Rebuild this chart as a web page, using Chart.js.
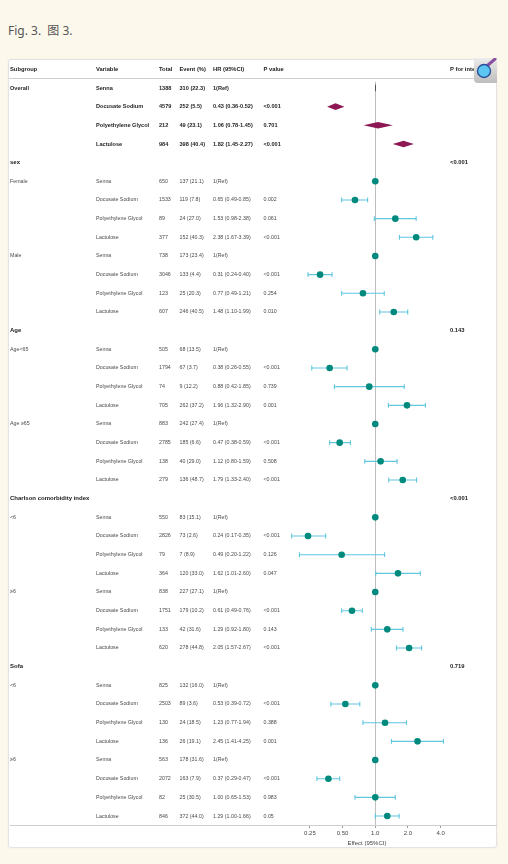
<!DOCTYPE html>
<html><head><meta charset="utf-8">
<script src="https://cdn.jsdelivr.net/npm/chart.js@4"></script>
<style>
html,body{margin:0;padding:0;background:#fcf9ec;width:508px;height:864px;overflow:hidden;}
#cap{position:absolute;left:8px;top:21px;font:12px "Noto Sans","Noto Sans CJK SC",sans-serif;color:#555;white-space:pre;}
#card{position:absolute;left:8px;top:59px;width:487px;height:787px;background:#fff;border:1px solid #e3e3e3;border-radius:3px;box-shadow:0 0 2px rgba(0,0,0,0.07);}
#c{position:absolute;left:0;top:0;}
#icon{position:absolute;left:474px;top:58px;}
</style></head><body>
<div id="cap">Fig. 3.  图 3.</div>
<div id="card"></div>
<canvas id="c" width="508" height="864"></canvas>
<svg id="icon" width="24" height="25" viewBox="0 0 24 25">
  <defs><linearGradient id="g" x1="0" y1="0" x2="0" y2="1"><stop offset="0" stop-color="#ececec"/><stop offset="1" stop-color="#bdbdbd"/></linearGradient></defs>
  <path d="M0 0 H23 V25 H4 Q0 25 0 21 Z" fill="url(#g)"/>
  <line x1="14" y1="7" x2="21" y2="1" stroke="#8a4fa0" stroke-width="3" stroke-linecap="round"/>
  <circle cx="10" cy="13" r="6.5" fill="#5cc6f2" stroke="#2a4f9a" stroke-width="1.4"/>
</svg>
<script>
const drugs = ['Senna','Docusate Sodium','Polyethylene Glycol','Lactulose'];
const overallTotal = [1388,4579,212,984];
const overallEvents = [310,252,49,398];
const overallPct = [22.3,5.5,23.1,40.4];
const overallHR = [1,0.43,1.06,1.82];
const overallLo = [1,0.36,0.78,1.45];
const overallHi = [1,0.52,1.45,2.27];
const overallP = ['','<0.001','0.701','<0.001'];

const sections = ['sex','Age','Charlson comorbidity index','Sofa'];
const sectionPInt = ['<0.001','0.143','<0.001','0.719'];
const subgroups = ['Female','Male','Age<65','Age ≥65','<6','≥6','<6','≥6'];
const subTotal = [[650,1533,89,377],[738,3046,123,607],[505,1794,74,705],[883,2785,138,279],[550,2826,79,364],[838,1751,133,620],[825,2503,130,136],[563,2072,82,846]];
const subEvents = [[137,119,24,152],[173,133,25,246],[68,67,9,262],[242,185,40,136],[83,73,7,120],[227,179,42,278],[132,89,24,26],[178,163,25,372]];
const subPct = [[21.1,7.8,27.0,40.3],[23.4,4.4,20.3,40.5],[13.5,3.7,12.2,37.2],[27.4,6.6,29.0,48.7],[15.1,2.6,8.9,33.0],[27.1,10.2,31.6,44.8],[16.0,3.6,18.5,19.1],[31.6,7.9,30.5,44.0]];
const subHR = [[1,0.65,1.53,2.38],[1,0.31,0.77,1.48],[1,0.38,0.88,1.96],[1,0.47,1.12,1.79],[1,0.24,0.49,1.62],[1,0.61,1.29,2.05],[1,0.53,1.23,2.45],[1,0.37,1.00,1.29]];
const subLo = [[1,0.49,0.98,1.67],[1,0.24,0.49,1.10],[1,0.26,0.42,1.32],[1,0.38,0.80,1.33],[1,0.17,0.20,1.01],[1,0.49,0.92,1.57],[1,0.39,0.77,1.41],[1,0.29,0.65,1.00]];
const subHi = [[1,0.85,2.38,3.39],[1,0.40,1.21,1.99],[1,0.55,1.85,2.90],[1,0.59,1.59,2.40],[1,0.35,1.22,2.60],[1,0.76,1.80,2.67],[1,0.72,1.94,4.25],[1,0.47,1.53,1.66]];
const subP = [['','0.002','0.061','<0.001'],['','<0.001','0.254','0.010'],['','<0.001','0.739','0.001'],['','<0.001','0.508','<0.001'],['','<0.001','0.126','0.047'],['','<0.001','0.143','<0.001'],['','<0.001','0.388','0.001'],['','<0.001','0.983','0.05']];

const headers = ['Subgroup','Variable','Total','Event (%)','HR (95%CI)','P value','P for interaction'];
const xTicks = [0.25,0.5,1,2,4];
const xTickLabels = ['0.25','0.50','1.0','2.0','4.0'];
const xTitle = 'Effect (95%CI)';

function hrText(j,h,l,u){ return j===0 ? '1(Ref)' : h.toFixed(2)+' ('+l.toFixed(2)+'-'+u.toFixed(2)+')'; }

const rows = [];
drugs.forEach((d,j)=>rows.push({kind:'overall',sub:j===0?'Overall':'',variable:d,total:overallTotal[j],
  ev:overallEvents[j]+' ('+overallPct[j].toFixed(1)+')',hr:overallHR[j],lo:overallLo[j],hi:overallHi[j],
  hrt:hrText(j,overallHR[j],overallLo[j],overallHi[j]),p:overallP[j],ref:j===0}));
sections.forEach((s,k)=>{
  rows.push({kind:'section',sub:s,pint:sectionPInt[k]});
  for(let g=2*k;g<2*k+2;g++){
    drugs.forEach((d,j)=>rows.push({kind:'data',sub:j===0?subgroups[g]:'',variable:d,total:subTotal[g][j],
      ev:subEvents[g][j]+' ('+subPct[g][j].toFixed(1)+')',hr:subHR[g][j],lo:subLo[g][j],hi:subHi[g][j],
      hrt:hrText(j,subHR[g][j],subLo[g][j],subHi[g][j]),p:subP[g][j],ref:j===0}));
  }
});

const pointData = [];
rows.forEach((r,i)=>{ if(r.kind==='data') pointData.push({x:r.hr,y:i}); });

const colX = [10,96,159,179.5,213,263.5,450];
const FONT = '"Liberation Sans", Arial, sans-serif';

const forest = {
  id:'forest',
  beforeDatasetsDraw(chart){
    const {ctx, chartArea:a, scales:{x,y}} = chart;
    ctx.save();
    // header & bottom lines
    ctx.strokeStyle='#cfcfcf'; ctx.lineWidth=1;
    ctx.beginPath(); ctx.moveTo(9,78.5); ctx.lineTo(496,78.5); ctx.stroke();
    ctx.beginPath(); ctx.moveTo(10,Math.round(a.bottom)+0.5); ctx.lineTo(a.right,Math.round(a.bottom)+0.5); ctx.stroke();
    // reference line
    const x1 = Math.round(x.getPixelForValue(1))+0.5;
    ctx.strokeStyle='#bdbdbd';
    ctx.beginPath(); ctx.moveTo(x1,a.top+3); ctx.lineTo(x1,a.bottom); ctx.stroke();
    // error bars
    ctx.strokeStyle='#5fc6df'; ctx.lineWidth=1.1;
    rows.forEach((r,i)=>{
      if(r.kind!=='data'||r.ref) return;
      const yy=y.getPixelForValue(i), xl=x.getPixelForValue(r.lo), xh=x.getPixelForValue(r.hi);
      ctx.beginPath();
      ctx.moveTo(xl,yy); ctx.lineTo(xh,yy);
      ctx.moveTo(xl,yy-2.4); ctx.lineTo(xl,yy+2.4);
      ctx.moveTo(xh,yy-2.4); ctx.lineTo(xh,yy+2.4);
      ctx.stroke();
    });
    // diamonds
    rows.forEach((r,i)=>{
      if(r.kind!=='overall') return;
      const yy=y.getPixelForValue(i), xl=x.getPixelForValue(r.lo), xh=x.getPixelForValue(r.hi), xc=x.getPixelForValue(r.hr);
      if(r.ref){
        ctx.strokeStyle='#555'; ctx.lineWidth=1;
        ctx.beginPath(); ctx.moveTo(x1,yy-3.3); ctx.lineTo(x1,yy+3.3); ctx.stroke();
        return;
      }
      ctx.fillStyle='#8c1752';
      ctx.beginPath();
      ctx.moveTo(xl,yy); ctx.lineTo(xc,yy-3.3); ctx.lineTo(xh,yy); ctx.lineTo(xc,yy+3.3); ctx.closePath();
      ctx.fill();
    });
    ctx.restore();
  },
  afterDraw(chart){
    const {ctx, scales:{x,y}} = chart;
    ctx.save();
    ctx.textBaseline='middle'; ctx.textAlign='left';
    ctx.font='bold 5.8px '+FONT; ctx.fillStyle='#222';
    headers.forEach((h,k)=>ctx.fillText(h,colX[k],69));
    rows.forEach((r,i)=>{
      const yy=y.getPixelForValue(i);
      if(r.kind==='section'){
        ctx.font='bold 6px '+FONT; ctx.fillStyle='#1a1a1a';
        ctx.fillText(r.sub,colX[0],yy);
        ctx.font='bold 5.8px '+FONT;
        ctx.fillText(r.pint,colX[6],yy);
        return;
      }
      if(r.kind==='overall'){ ctx.font='bold 5.6px '+FONT; ctx.fillStyle='#1e1e1e'; }
      else { ctx.font='5.3px '+FONT; ctx.fillStyle='#4a4a4a'; }
      const vals=[r.sub,r.variable,String(r.total),r.ev,r.hrt,r.p];
      vals.forEach((v,k)=>{ if(v) ctx.fillText(v,colX[k],yy); });
    });
    ctx.font='6px '+FONT; ctx.fillStyle='#444'; ctx.textAlign='center';
    ctx.fillText(xTitle,367,843.5);
    ctx.restore();
  }
};

new Chart(document.getElementById('c'),{
  type:'scatter',
  data:{datasets:[{data:pointData,backgroundColor:'#00897d',borderColor:'#00897d',pointRadius:3.3,pointHoverRadius:3.3,borderWidth:0}]},
  options:{
    responsive:false,animation:false,
    layout:{padding:{left:290,right:12,top:79,bottom:17}},
    plugins:{legend:{display:false},tooltip:{enabled:false},title:{display:false}},
    scales:{
      x:{type:'logarithmic',min:0.1638,max:12.95,bounds:'data',
        afterBuildTicks:(s)=>{ s.ticks = xTicks.map(v=>({value:v})); },
        afterFit:(s)=>{ s.height=22; },
        grid:{drawOnChartArea:false,drawTicks:true,tickLength:3,color:'#9a9a9a'},
        border:{display:true,color:'#cfcfcf'},
        ticks:{autoSkip:false,maxRotation:0,padding:2,color:'#444',font:{size:6,family:FONT},
          callback:(v)=>{ const k=xTicks.indexOf(v); return k>=0?xTickLabels[k]:''; }}
      },
      y:{type:'linear',display:false,reverse:true,min:-0.48,max:39.48}
    }
  },
  plugins:[forest]
});
</script>
</body></html>
